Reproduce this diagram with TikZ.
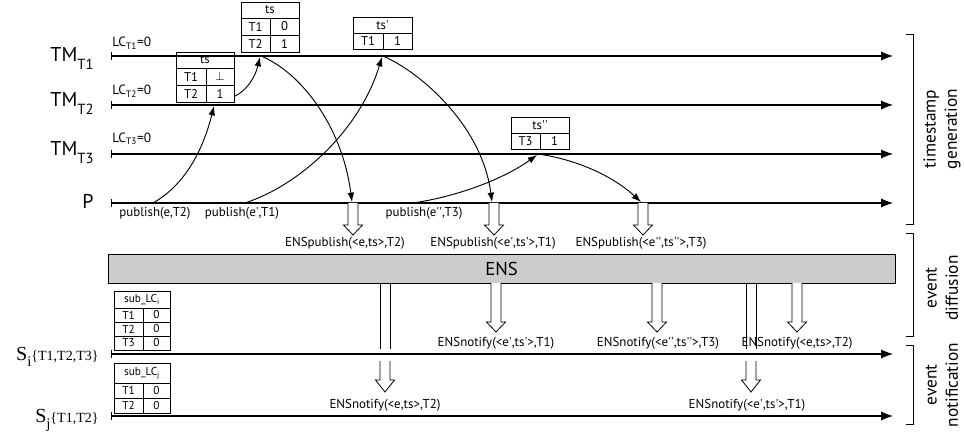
\documentclass[tikz,border=0pt]{standalone}
\usepackage{fontspec}
\setmainfont{PT Sans}
\newfontfamily\seriffont{Liberation Serif}
\usetikzlibrary{arrows.meta,calc}
\definecolor{ensgray}{RGB}{204,204,204}
\newcommand\q{\textquotesingle}
\newcommand\tcell[6]{\node[cell,minimum width={(#4-#2)*0.75pt},minimum height={(#5-#3)*0.75pt}] (#1) at ({(#2+#4)/2},{(#3+#5)/2}) {#6};}
\newcommand\scell[6]{\node[subcell,minimum width={(#4-#2)*0.75pt},minimum height={(#5-#3)*0.75pt}] (#1) at ({(#2+#4)/2},{(#3+#5)/2}) {#6};}
% hollow down arrow: coordinate, shaft length, head length
\newcommand\hollowdown[3]{\draw[hollow] ($(#1)+(-5,0)$) -- ++(0,#2) -- ++(-4.5,0) -- ++(9.5,#3) -- ++(9.5,-#3) -- ++(-4.5,0) -- ++(0,-#2);}
\newcommand\hollowshaft[2]{\draw[hollow] ($(#1)+(-5,0)$) -- ++(0,#2); \draw[hollow] ($(#1)+(5,0)$) -- ++(0,#2);}
\tikzset{
  every picture/.style={line width=0.7pt},
  cell/.style={draw, inner sep=0pt, line width=0.6pt, font=\fontsize{9.5}{10}\selectfont},
  subcell/.style={draw, inner sep=0pt, line width=0.6pt, font=\fontsize{8.5}{9}\selectfont},
  timeline/.style={line width=0.8pt, {Bar[width=6pt]}-{Latex[length=9pt,width=7pt]}},
  msg/.style={line width=0.7pt, -{Latex[length=7pt,width=5pt]}},
  hollow/.style={line width=0.6pt, fill=white, line join=miter},
  lbl/.style={font=\fontsize{9.7}{10}\selectfont, inner sep=0pt},
  big/.style={font=\fontsize{15}{16}\selectfont, inner sep=0pt},
  side/.style={font=\fontsize{13}{16}\selectfont, align=center, rotate=90, inner sep=0pt},
  bracket/.style={line width=0.7pt},
}
\begin{document}
\begin{tikzpicture}[x=0.75pt,y=-0.75pt]
\useasboundingbox (0,0) rectangle (964,438);
% timelines
\coordinate (T1a) at (111,56);  \coordinate (T1b) at (893,56);
\coordinate (T2a) at (111,105); \coordinate (T2b) at (893,105);
\coordinate (T3a) at (111,154); \coordinate (T3b) at (893,154);
\coordinate (Pa) at (111,203);  \coordinate (Pb) at (893,203);
\coordinate (Sia) at (111,354); \coordinate (Sib) at (893,354);
\coordinate (Sja) at (111,416); \coordinate (Sjb) at (893,416);
\foreach \l in {T1,T2,T3,P,Si,Sj} \draw[timeline] (\l a) -- (\l b);
% left labels
\node[big, anchor=base east] (lTM1) at (94,62) {TM\raisebox{-0.4em}{\fontsize{11}{11}\selectfont T1}};
\node[big, anchor=base east] (lTM2) at (94,107) {TM\raisebox{-0.4em}{\fontsize{11}{11}\selectfont T2}};
\node[big, anchor=base east] (lTM3) at (94,156) {TM\raisebox{-0.4em}{\fontsize{11}{11}\selectfont T3}};
\node[big, anchor=base east] (lP) at (94,209) {P};
\node[inner sep=0pt, anchor=base east] (lSi) at (99,360) {\seriffont\fontsize{15}{15}\selectfont S\raisebox{-0.3em}{\fontsize{11}{11}\selectfont i}\fontsize{10.5}{10.5}\selectfont\{T1,T2,T3\}};
\node[inner sep=0pt, anchor=base east] (lSj) at (99,422) {\seriffont\fontsize{15}{15}\selectfont S\raisebox{-0.3em}{\fontsize{11}{11}\selectfont j}\fontsize{10.5}{10.5}\selectfont\{T1,T2\}};
\node[lbl, anchor=base west, font=\fontsize{10}{10}\selectfont] (lc1) at (112,47) {LC\textsubscript{T1}=0};
\node[lbl, anchor=base west, font=\fontsize{10}{10}\selectfont] (lc2) at (112,95) {LC\textsubscript{T2}=0};
\node[lbl, anchor=base west, font=\fontsize{10}{10}\selectfont] (lc3) at (112,143) {LC\textsubscript{T3}=0};
% tables
\tcell{tsAh}{176}{52}{234}{68}{ts}
\tcell{tsA11}{176}{68}{206}{85}{T1}
\tcell{tsA12}{206}{68}{234}{85}{$\bot$}
\tcell{tsA21}{176}{85}{206}{102}{T2}
\tcell{tsA22}{206}{85}{234}{102}{1}
\tcell{tsBh}{241}{2}{299}{18}{ts}
\tcell{tsB11}{241}{18}{270}{35}{T1}
\tcell{tsB12}{270}{18}{299}{35}{0}
\tcell{tsB21}{241}{35}{270}{52}{T2}
\tcell{tsB22}{270}{35}{299}{52}{1}
\tcell{tsCh}{353}{17}{412}{33}{ts\q}
\tcell{tsC11}{353}{33}{383}{49}{T1}
\tcell{tsC12}{383}{33}{412}{49}{1}
\tcell{tsDh}{511}{117}{569}{133}{ts\q\q}
\tcell{tsD11}{511}{133}{540}{149}{T3}
\tcell{tsD12}{540}{133}{569}{149}{1}
\scell{sIh}{114}{291}{170}{308}{sub\_LC\textsubscript{i}}
\scell{sI11}{114}{308}{143}{322}{T1}
\scell{sI12}{143}{308}{170}{322}{0}
\scell{sI21}{114}{322}{143}{336}{T2}
\scell{sI22}{143}{322}{170}{336}{0}
\scell{sI31}{114}{336}{143}{350}{T3}
\scell{sI32}{143}{336}{170}{350}{0}
\scell{sJh}{114}{363}{170}{383}{sub\_LC\textsubscript{j}}
\scell{sJ11}{114}{383}{143}{398}{T1}
\scell{sJ12}{143}{383}{170}{398}{0}
\scell{sJ21}{114}{398}{143}{413}{T2}
\scell{sJ22}{143}{398}{170}{413}{0}
% message curves
\coordinate (m1s) at (153,203); \coordinate (m1e) at (214,106);
\coordinate (m2s) at (235,96);  \coordinate (m2e) at (260,57);
\coordinate (m3s) at (245,203); \coordinate (m3e) at (382,57);
\coordinate (m4s) at (261,56);  \coordinate (m4e) at (352,202);
\coordinate (m5s) at (383,56);  \coordinate (m5e) at (492,202);
\coordinate (m6s) at (413,203); \coordinate (m6e) at (537,155);
\coordinate (m7s) at (538,154); \coordinate (m7e) at (641,202);
\draw[msg] (m1s) .. controls (185,185) and (203,150) .. (m1e);
\draw[msg] (m2s) .. controls (246,91) and (255,78) .. (m2e);
\draw[msg] (m3s) .. controls (300,185) and (360,130) .. (m3e);
\draw[msg] (m4s) .. controls (300,72) and (342,125) .. (m4e);
\draw[msg] (m5s) .. controls (420,72) and (482,125) .. (m5e);
\draw[msg] (m6s) .. controls (460,196) and (505,178) .. (m6e);
\draw[msg] (m7s) .. controls (580,160) and (615,178) .. (m7e);
% publish labels
\node[lbl, anchor=base] (pub1) at (155,217) {publish(e,T2)};
\node[lbl, anchor=base] (pub2) at (242,217) {publish(e\q,T1)};
\node[lbl, anchor=base] (pub3) at (424,217) {publish(e\q\q,T3)};
% hollow arrows from P to ENS
\coordinate (hp1) at (353,203); \coordinate (hp2) at (494,203); \coordinate (hp3) at (643,203);
\foreach \c in {hp1,hp2,hp3} \hollowdown{\c}{22}{10};
\node[lbl, anchor=base] (ep1) at (345,247) {ENSpublish(<e,ts>,T2)};
\node[lbl, anchor=base] (ep2) at (493,247) {ENSpublish(<e\q,ts\q>,T1)};
\node[lbl, anchor=base] (ep3) at (641,247) {ENSpublish(<e\q\q,ts\q\q>,T3)};
% ENS
\node[draw, fill=ensgray, inner sep=0pt, line width=0.7pt, minimum width={787*0.75pt}, minimum height={29*0.75pt}] (ens) at (501.5,268.5) {};
\node[font=\fontsize{14}{14}\selectfont, inner sep=0pt] (enst) at (ens.center) {ENS};
% arrows out of ENS
\coordinate (hn1) at (496,283); \coordinate (hn2) at (657,283); \coordinate (hn3) at (797,283);
\foreach \c in {hn1,hn2,hn3} \hollowdown{\c}{39}{10};
\coordinate (hl1) at (385,283); \coordinate (hl1b) at (385,361);
\coordinate (hl2) at (751,283); \coordinate (hl2b) at (751,361);
\hollowshaft{hl1}{66}
\hollowshaft{hl2}{66}
\hollowdown{hl1b}{19}{12}
\hollowdown{hl2b}{19}{12}
\node[lbl, anchor=base] (en1) at (496,347) {ENSnotify(<e\q,ts\q>,T1)};
\node[lbl, anchor=base] (en2) at (658,347) {ENSnotify(<e\q\q,ts\q\q>,T3)};
\node[lbl, anchor=base] (en3) at (797,347) {ENSnotify(<e,ts>,T2)};
\node[lbl, anchor=base] (en4) at (385,408) {ENSnotify(<e,ts>,T2)};
\node[lbl, anchor=base] (en5) at (747,408) {ENSnotify(<e\q,ts\q>,T1)};
% brackets
\coordinate (b1t) at (906,34);  \coordinate (b1b) at (906,224);
\coordinate (b2t) at (906,233); \coordinate (b2b) at (906,336);
\coordinate (b3t) at (906,345); \coordinate (b3b) at (906,424);
\draw[bracket] (b1t) -- ++(7,0) |- (b1b);
\draw[bracket] (b2t) -- ++(7,0) |- (b2b);
\draw[bracket] (b3t) -- ++(7,0) |- (b3b);
\node[side] (s1) at (942,129) {timestamp\\generation};
\node[side] (s2) at (942,288) {event\\diffusion};
\node[side] (s3) at (942,385) {event\\notification};
\end{tikzpicture}
\end{document}
